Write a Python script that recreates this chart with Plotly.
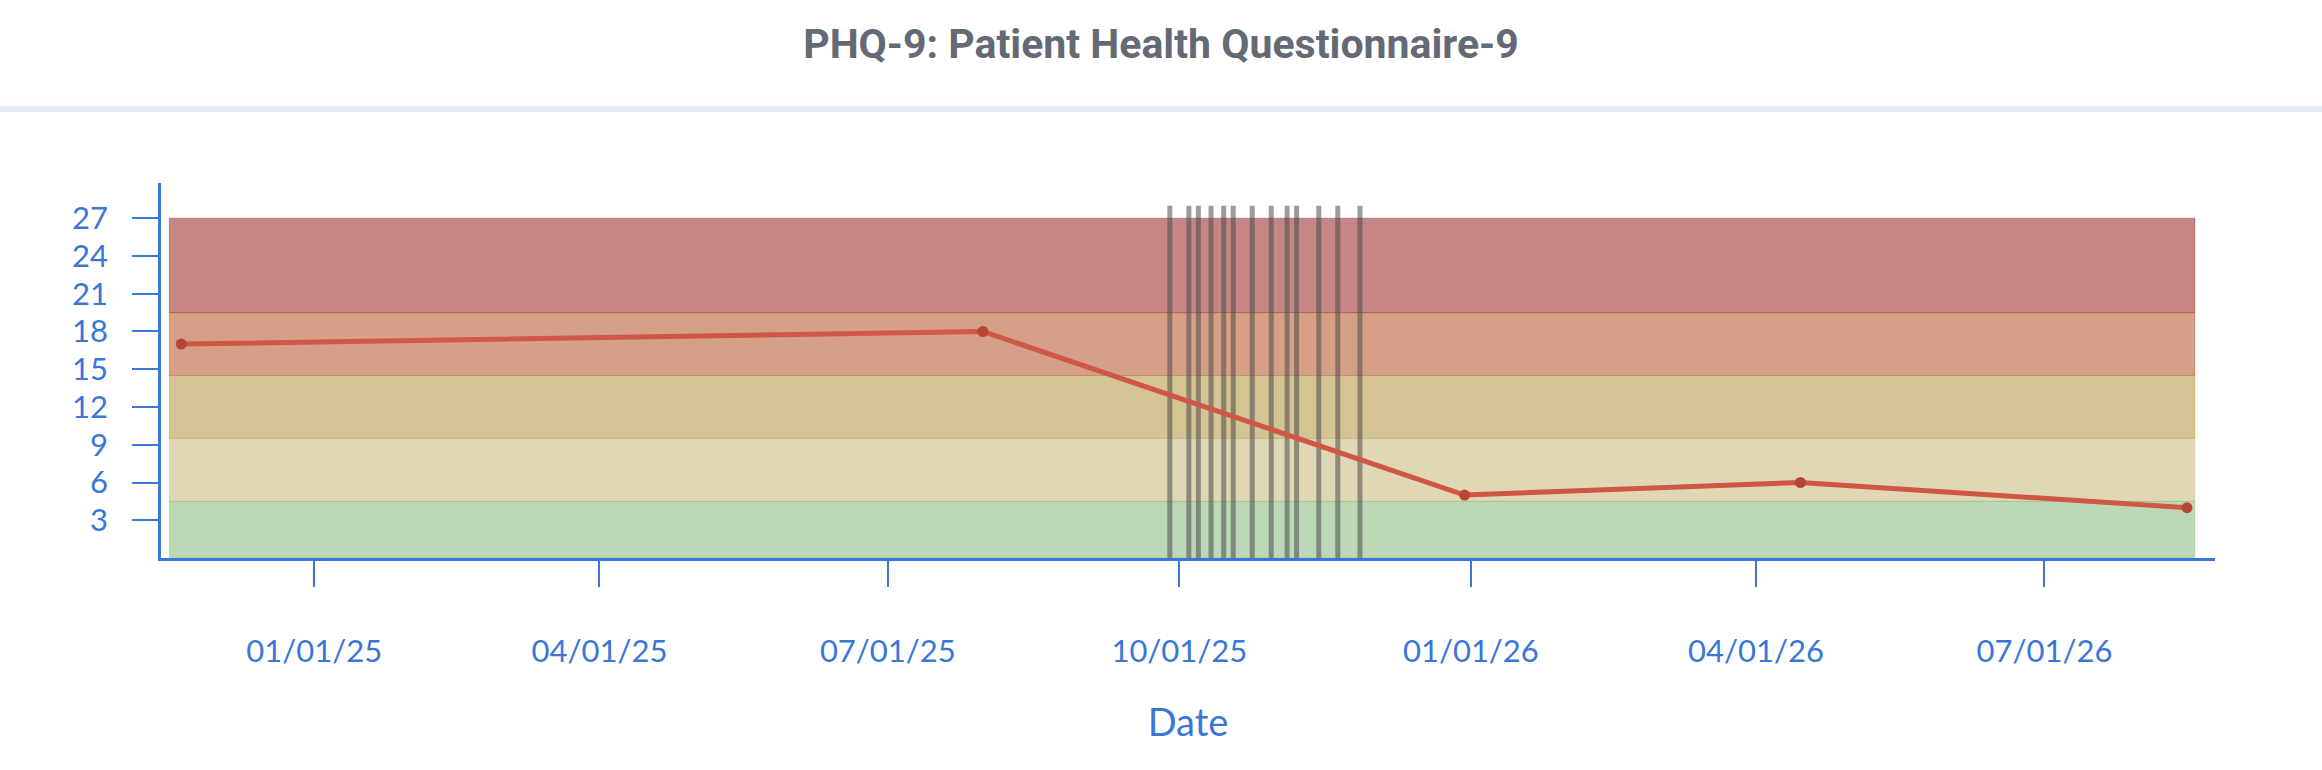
import plotly.graph_objects as go

# PHQ-9 scores over time
score_dates = ["2024-11-20", "2025-07-31", "2025-12-30", "2026-04-15", "2026-08-15"]
score_values = [17, 18, 5, 6, 4]

# event markers (vertical bars)
event_dates = ["2025-09-28", "2025-10-04", "2025-10-07", "2025-10-11", "2025-10-15",
               "2025-10-18", "2025-10-24", "2025-10-30", "2025-11-04", "2025-11-07",
               "2025-11-14", "2025-11-20", "2025-11-27"]
event_height = 28

# severity bands
band_edges = [0, 4.5, 9.5, 14.5, 19.5, 27]
band_colors = ["123,177,109", "193,175,109", "171,137,39", "173,65,17", "139,13,11"]
band_start = "2024-11-16 06:00"
band_end = "2026-08-17 12:00"

y_ticks = [3, 6, 9, 12, 15, 18, 21, 24, 27]
x_range = ["2024-11-13 15:00", "2026-08-23 20:00"]
y_range = [0, 29.8]

blue = "#3a76d6"
tick_font = dict(family="Lato", size=31, color=blue)

fig = go.Figure()

# vertical event lines
ev_x, ev_y = [], []
for d in event_dates:
    ev_x += [d, d, None]
    ev_y += [0, event_height, None]
fig.add_trace(go.Scatter(x=ev_x, y=ev_y, mode="lines", hoverinfo="skip",
                         line=dict(color="rgba(75,75,75,0.55)", width=5), showlegend=False))

fig.add_trace(go.Scatter(x=score_dates, y=score_values, mode="lines+markers",
                         line=dict(color="#d05646", width=5),
                         marker=dict(color="#b94432", size=11), showlegend=False))

# bands drawn from top to bottom so the lower band's border sits on top
for i in reversed(range(len(band_colors))):
    c = band_colors[i]
    fig.add_shape(type="rect", xref="x", yref="y", x0=band_start, x1=band_end,
                  y0=band_edges[i], y1=band_edges[i + 1], layer="below",
                  fillcolor=f"rgba({c},0.5)", line=dict(color=f"rgba({c},0.35)", width=1))

# light header rule under the title
W, H, L, R, T, B = 2322, 770, 161, 107, 183, 212
pw, ph = W - L - R, H - T - B
fig.add_shape(type="rect", xref="paper", yref="paper", x0=-L / pw, x1=(W - L) / pw,
              y0=(H - B - 112) / ph, y1=(H - B - 106) / ph,
              fillcolor="#e4eafa", line=dict(width=0), layer="below")

fig.update_layout(
    width=W, height=H,
    margin=dict(l=L, r=R, t=T, b=B),
    paper_bgcolor="white", plot_bgcolor="white",
    title=dict(text="<b>PHQ-9: Patient Health Questionnaire-9</b>", x=0.5, xref="container",
               y=1 - 44 / H, yref="container", yanchor="middle", xanchor="center",
               font=dict(family="Roboto", size=41, color="#646a75")),
    xaxis=dict(range=x_range, type="date", tick0="2025-01-01", dtick="M3",
               tickformat="%m/%d/%y", ticks="outside", ticklen=26, tickwidth=2,
               tickcolor=blue, showline=True, linecolor=blue, linewidth=2.5,
               showgrid=False, zeroline=False, tickfont=tick_font, ticklabelstandoff=38,
               title=dict(text="Date", font=dict(family="Lato", size=38, color=blue), standoff=42)),
    yaxis=dict(range=y_range, tickvals=y_ticks, ticks="outside", ticklen=26, tickwidth=2,
               tickcolor=blue, showline=True, linecolor=blue, linewidth=2.5,
               showgrid=False, zeroline=False, tickfont=tick_font, ticklabelstandoff=18),
)

fig.write_html("out.html", config={"displayModeBar": False},
               post_script="document.body.style.margin='0';")
